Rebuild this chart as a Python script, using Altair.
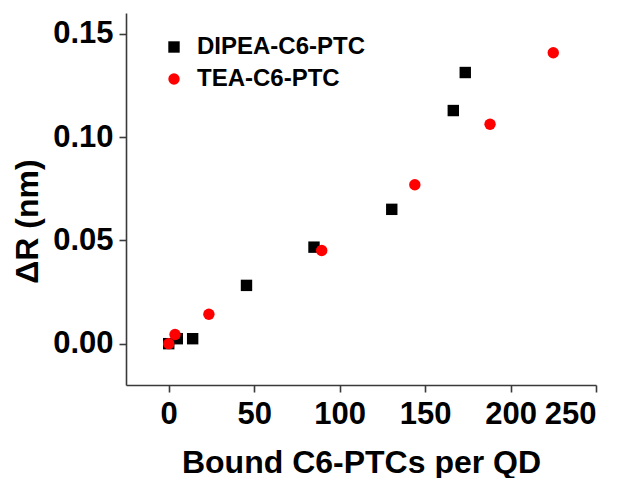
import altair as alt
import pandas as pd

# Bound ligands per quantum dot vs. change in radius
dipea_x = [0, 5, 14, 45.5, 85, 130.5, 166.5, 173.5]
dipea_y = [0.000, 0.0024, 0.0024, 0.0282, 0.0467, 0.0650, 0.1128, 0.1312]

tea_x = [0, 3.7, 23.5, 89.5, 144, 188, 225]
tea_y = [0.000, 0.0044, 0.0142, 0.0451, 0.0769, 0.1062, 0.1408]

series_names = ["DIPEA-C6-PTC", "TEA-C6-PTC"]

df = pd.DataFrame(
    {
        "x": dipea_x + tea_x,
        "y": dipea_y + tea_y,
        "series": [series_names[0]] * len(dipea_x) + [series_names[1]] * len(tea_x),
    }
)

FONT = "Liberation Sans"
AXIS_COLOR = "#3a3a3a"

points = (
    alt.Chart(df)
    .mark_point(filled=True, opacity=1, size=130, strokeWidth=0)
    .encode(
        x=alt.X(
            "x:Q",
            scale=alt.Scale(domain=[-25, 250], nice=False, zero=False),
            axis=alt.Axis(
                title="Bound C6-PTCs per QD",
                values=[0, 50, 100, 150, 200, 250],
                format="d",
                titleY=87,
                titleBaseline="alphabetic",
            ),
        ),
        y=alt.Y(
            "y:Q",
            scale=alt.Scale(domain=[-0.02, 0.16], nice=False, zero=False),
            axis=alt.Axis(
                title="ΔR (nm)",
                values=[0.0, 0.05, 0.10, 0.15],
                format=".2f",
                titleX=-99,
                titleY=208,
                titleBaseline="middle",
                titleAngle=-90,
            ),
        ),
        color=alt.Color(
            "series:N",
            scale=alt.Scale(domain=series_names, range=["#000000", "#ff0000"]),
            legend=alt.Legend(
                title=None,
                orient="none",
                legendX=36,
                legendY=22,
                padding=0,
                labelFontSize=24,
                labelFont=FONT,
                labelFontWeight="bold",
                labelColor="#000000",
                labelLimit=0,
                labelOffset=11,
                symbolSize=130,
                symbolStrokeWidth=0,
                rowPadding=8,
            ),
        ),
        shape=alt.Shape(
            "series:N",
            scale=alt.Scale(domain=series_names, range=["square", "circle"]),
            legend=None,
        ),
    )
)

chart = (
    points.properties(
        width=470,
        height=372,
        autosize=alt.AutoSizeParams(type="none"),
        padding={"left": 126, "top": 13, "right": 31, "bottom": 93},
    )
    .configure_view(stroke=None)
    .configure_axis(
        grid=False,
        domainColor=AXIS_COLOR,
        domainWidth=1.6,
        tickColor=AXIS_COLOR,
        tickWidth=1.6,
        tickSize=7,
        labelFont=FONT,
        labelFontSize=31,
        labelFontWeight="bold",
        labelColor="#000000",
        labelPadding=7,
        titleFont=FONT,
        titleFontSize=32,
        titleFontWeight="bold",
        titleColor="#000000",
    )
    .configure_axisY(labelPadding=6)
)

chart.save("out.html", embed_options={"renderer": "svg", "actions": False})
